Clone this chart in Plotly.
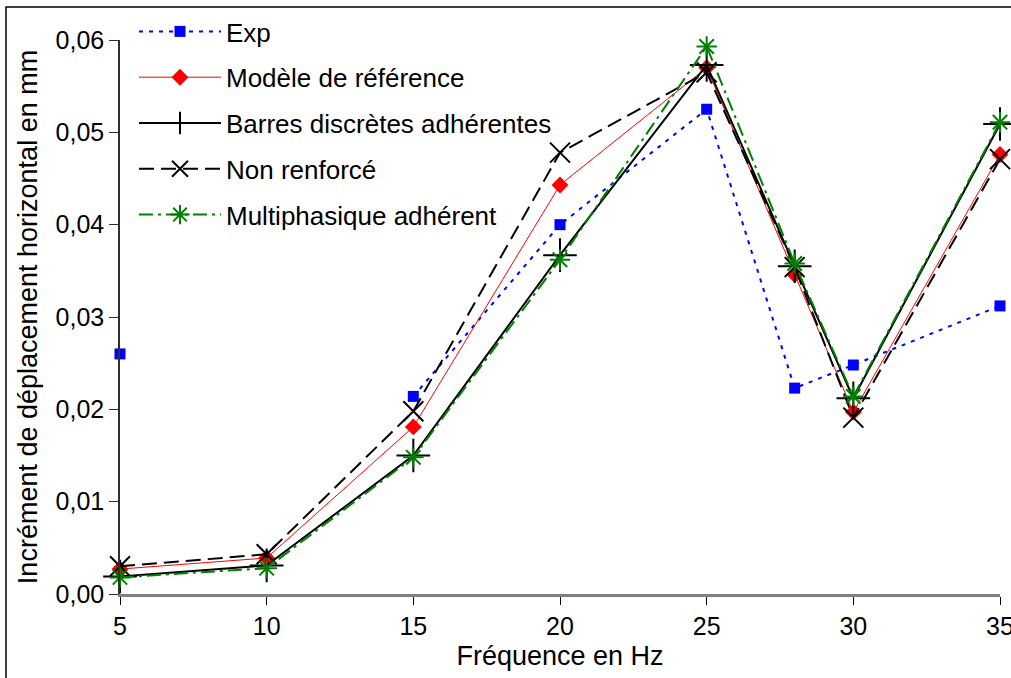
import plotly.graph_objects as go

freq = [5, 10, 15, 20, 25, 28, 30, 35]
exp_vals = [0.0260, None, 0.0214, 0.0400, 0.0525, 0.0223, 0.0248, 0.0312]
modele_ref = [0.0027, 0.0039, 0.0181, 0.0443, 0.0570, 0.0346, 0.0197, 0.0476]
barres = [0.0019, 0.0031, 0.0150, 0.0367, 0.0573, 0.0355, 0.0212, 0.0509]
non_renforce = [0.0030, 0.0043, 0.0198, 0.0478, 0.0565, 0.0354, 0.0191, 0.0471]
multiphasique = [0.0018, 0.0028, 0.0148, 0.0362, 0.0593, 0.0358, 0.0214, 0.0511]

x_ticks = [5, 10, 15, 20, 25, 30, 35]
y_ticks = [0.00, 0.01, 0.02, 0.03, 0.04, 0.05, 0.06]

FONT = "Arial, Liberation Sans, sans-serif"

L, R, T, B = 120, 11, 40, 84
W, H = 1011, 678
PW, PH = W - L - R, H - T - B

fig = go.Figure()

fig.add_trace(go.Scatter(
    x=freq, y=exp_vals, name="Exp", mode="lines+markers", connectgaps=False,
    line=dict(color="#0000FF", width=2, dash="4px,6px"),
    marker=dict(symbol="square", size=11, color="#0000FF"),
    legendgroup="a", cliponaxis=False))
fig.add_trace(go.Scatter(
    x=freq, y=modele_ref, name="Modèle de référence", mode="lines+markers",
    line=dict(color="#FF0000", width=1),
    marker=dict(symbol="diamond", size=13, color="#FF0000"),
    legendgroup="b", cliponaxis=False))
fig.add_trace(go.Scatter(
    x=freq, y=barres, name="Barres discrètes adhérentes", mode="lines+markers",
    line=dict(color="#000000", width=2),
    marker=dict(symbol="cross-thin", size=24, color="#000000",
                line=dict(color="#000000", width=2)),
    legendgroup="c", cliponaxis=False))
fig.add_trace(go.Scatter(
    x=freq, y=non_renforce, name="Non renforcé", mode="lines+markers",
    line=dict(color="#000000", width=2, dash="15px,7px"),
    marker=dict(symbol="x-thin", size=20, color="#000000",
                line=dict(color="#000000", width=2)),
    legendgroup="d", cliponaxis=False))
fig.add_trace(go.Scatter(
    x=freq, y=multiphasique, name="Multiphasique adhérent", mode="lines+markers",
    line=dict(color="#008000", width=2, dash="14px,5px,3px,5px"),
    marker=dict(symbol="asterisk", size=17, color="#008000",
                line=dict(color="#008000", width=2)),
    legendgroup="e", cliponaxis=False))

fig.update_layout(
    width=W, height=H,
    margin=dict(l=L, r=R, t=T, b=B, autoexpand=False),
    paper_bgcolor="white", plot_bgcolor="white",
    separators=",.",
    font=dict(family=FONT, size=25, color="black"),
    showlegend=True,
    legend=dict(
        x=(134 - L) / PW, y=1 + (T - 8) / PH, xanchor="left", yanchor="top",
        bgcolor="rgba(255,255,255,0)", borderwidth=0,
        font=dict(family=FONT, size=26, color="black"),
        tracegroupgap=9, itemwidth=82,
    ),
    xaxis=dict(
        range=[5, 35], tickvals=x_ticks, ticktext=[str(v) for v in x_ticks],
        showgrid=False, zeroline=False, showline=True, automargin=False,
        linecolor="#808080", linewidth=3, ticklabeloverflow="allow",
        ticks="outside", ticklen=8, tickcolor="#000000", tickwidth=1,
        tickfont=dict(family=FONT, size=25),
        title=dict(text="Fréquence en Hz", font=dict(family=FONT, size=27), standoff=8),
    ),
    yaxis=dict(
        range=[0, 0.06], tickvals=y_ticks, tickformat=".2f",
        showgrid=False, zeroline=False, showline=True, automargin=False,
        linecolor="#303030", linewidth=1.5,
        ticks="outside", ticklen=9, tickcolor="#303030", tickwidth=1,
        tickfont=dict(family=FONT, size=25),
        title=dict(text="Incrément de déplacement horizontal en mm",
                   font=dict(family=FONT, size=27), standoff=10),
    ),
)

# outer chart frame (left and top edges visible, bottom/right cropped)
fig.add_shape(type="rect", xref="paper", yref="paper",
              x0=(6 - L) / PW, x1=1.1, y0=-(700 - (H - B)) / PH, y1=((H - B) - 7) / PH,
              line=dict(color="black", width=1.5), fillcolor="rgba(0,0,0,0)", layer="below")

fig.write_html("out.html", config={"displayModeBar": False},
               post_script="document.body.style.margin='0';")
